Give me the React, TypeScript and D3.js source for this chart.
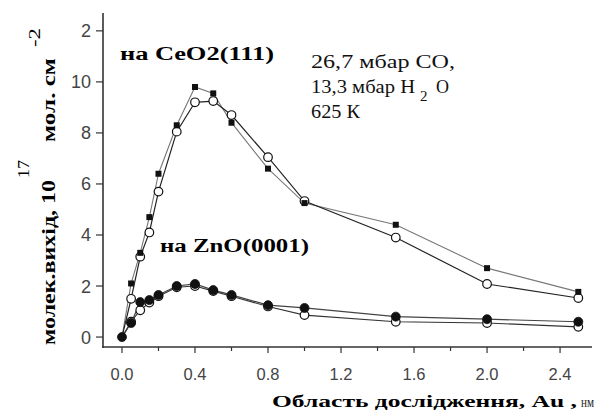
import React from "react";
import * as d3 from "d3";

const xValues = [0, 0.05, 0.1, 0.15, 0.2, 0.3, 0.4, 0.5, 0.6, 0.8, 1.0, 1.5, 2.0, 2.5];
const ceo2Filled = [0, 2.1, 3.3, 4.7, 6.4, 8.3, 9.8, 9.55, 8.4, 6.6, 5.25, 4.4, 2.7, 1.77];
const ceo2Open = [0, 1.5, 3.15, 4.1, 5.7, 8.05, 9.2, 9.25, 8.7, 7.05, 5.33, 3.9, 2.08, 1.53];
const znoFilled = [0, 0.55, 1.37, 1.45, 1.65, 2.0, 2.08, 1.84, 1.65, 1.25, 1.14, 0.8, 0.7, 0.6];
const znoOpen = [0, 0.6, 1.05, 1.35, 1.6, 1.95, 2.0, 1.8, 1.6, 1.2, 0.86, 0.6, 0.55, 0.4];

const xTicks = [0, 0.4, 0.8, 1.2, 1.6, 2.0, 2.4];
const xTickLabels = ["0.0", "0.4", "0.8", "1.2", "1.6", "2.0", "2.4"];
const xMinorTicks = [0.2, 0.6, 1.0, 1.4, 1.8, 2.2];
const yTicks = [0, 2, 4, 6, 8, 10, 12];
const yTickLabels = ["0", "2", "4", "6", "8", "10", "2"];

const W = 609;
const H = 414;

export default function App() {
  const x = d3.scaleLinear().domain([-0.104, 2.575]).range([103, 592]);
  const y = d3.scaleLinear().domain([-0.39, 12.7]).range([347, 13]);
  const line = (vals: number[]) =>
    d3.line<number>().x((_, i) => x(xValues[i])).y((v) => y(v))(vals) || "";

  const serif = "'Liberation Serif', 'DejaVu Serif', serif";
  const sans = "'Liberation Sans', Arial, sans-serif";
  const axisColor = "#333";

  return (
    <div style={{ position: "absolute", left: 0, top: 0 }}>
      <svg width={W} height={H} style={{ display: "block", background: "#fff" }}>
        {/* axes */}
        <line x1={103} x2={103} y1={13} y2={348} stroke={axisColor} strokeWidth={1.6} />
        <line x1={102} x2={592} y1={347} y2={347} stroke={axisColor} strokeWidth={1.6} />
        {yTicks.map((t, i) => (
          <g key={"y" + t}>
            <line x1={96} x2={103} y1={y(t)} y2={y(t)} stroke={axisColor} strokeWidth={1.2} />
            <text x={91} y={y(t) + 6.5} textAnchor="end" fontFamily={sans} fontSize={18} fill="#444">
              {yTickLabels[i]}
            </text>
          </g>
        ))}
        {xTicks.map((t, i) => (
          <g key={"x" + t}>
            <line x1={x(t)} x2={x(t)} y1={347} y2={353} stroke={axisColor} strokeWidth={1.2} />
            <text x={x(t)} y={380} textAnchor="middle" fontFamily={sans} fontSize={16.5} fill="#444">
              {xTickLabels[i]}
            </text>
          </g>
        ))}
        {xMinorTicks.map((t) => (
          <line key={"m" + t} x1={x(t)} x2={x(t)} y1={347} y2={351} stroke={axisColor} strokeWidth={1.2} />
        ))}

        {/* lines */}
        <path d={line(ceo2Filled)} fill="none" stroke="#777" strokeWidth={1.1} />
        <path d={line(ceo2Open)} fill="none" stroke="#222" strokeWidth={1.2} />
        <path d={line(znoFilled)} fill="none" stroke="#444" strokeWidth={1.2} />
        <path d={line(znoOpen)} fill="none" stroke="#333" strokeWidth={1.1} />

        {/* markers */}
        {znoOpen.map((v, i) =>
          i === 0 ? null : (
            <circle key={"zo" + i} cx={x(xValues[i])} cy={y(v)} r={4.3} fill="#fff" stroke="#111" strokeWidth={1.2} />
          )
        )}
        {ceo2Open.map((v, i) =>
          i === 0 ? null : (
            <circle key={"co" + i} cx={x(xValues[i])} cy={y(v)} r={4.3} fill="#fff" stroke="#111" strokeWidth={1.2} />
          )
        )}
        {znoFilled.map((v, i) => (
          <circle key={"zf" + i} cx={x(xValues[i])} cy={y(v)} r={4.5} fill="#111" stroke="#111" strokeWidth={0.8} />
        ))}
        {ceo2Filled.map((v, i) =>
          i === 0 ? null : (
            <rect key={"cf" + i} x={x(xValues[i]) - 3} y={y(v) - 3} width={6} height={6} fill="#111" />
          )
        )}

        {/* annotations */}
        <text x={120} y={60} fontFamily={serif} fontWeight="bold" fontSize={18} textLength={154} lengthAdjust="spacingAndGlyphs" fill="#000">
          на CeO2(111)
        </text>
        <text x={160} y={252} fontFamily={serif} fontWeight="bold" fontSize={18} textLength={149} lengthAdjust="spacingAndGlyphs" fill="#000">
          на ZnO(0001)
        </text>
        <text x={311} y={68} fontFamily={serif} fontSize={18} textLength={144} lengthAdjust="spacingAndGlyphs" fill="#111">
          26,7 мбар CO,
        </text>
        <text x={311} y={93} fontFamily={serif} fontSize={18} textLength={104} lengthAdjust="spacingAndGlyphs" fill="#111">
          13,3 мбар Н
        </text>
        <text x={420} y={101} fontFamily={serif} fontSize={15} fill="#111">2</text>
        <text x={436} y={93} fontFamily={serif} fontSize={18} fill="#111">О</text>
        <text x={311} y={118} fontFamily={serif} fontSize={18} textLength={49} lengthAdjust="spacingAndGlyphs" fill="#111">
          625 К
        </text>

        {/* y label */}
        <g transform="translate(55,345) rotate(-90)">
          <text x={0} y={0} fontFamily={serif} fontWeight="bold" fontSize={18} textLength={165} lengthAdjust="spacingAndGlyphs" fill="#000">
            молек.вихід, 10
          </text>
        </g>
        <g transform="translate(29,178) rotate(-90)">
          <text x={0} y={0} fontFamily={serif} fontSize={17} textLength={18} lengthAdjust="spacingAndGlyphs" fill="#000">
            17
          </text>
        </g>
        <g transform="translate(55,142) rotate(-90)">
          <text x={0} y={0} fontFamily={serif} fontWeight="bold" fontSize={18} textLength={84} lengthAdjust="spacingAndGlyphs" fill="#000">
            мол. см
          </text>
        </g>
        <g transform="translate(40,47) rotate(-90)">
          <text x={0} y={0} fontFamily={serif} fontSize={17} textLength={19} lengthAdjust="spacingAndGlyphs" fill="#000">
            -2
          </text>
        </g>

        {/* x label */}
        <text x={272} y={407} fontFamily={serif} fontWeight="bold" fontSize={17} textLength={305} lengthAdjust="spacingAndGlyphs" fill="#000">
          Область дослідження, Au ,
        </text>
        <text x={581} y={407} fontFamily={serif} fontSize={14} textLength={13} lengthAdjust="spacingAndGlyphs" fill="#222">
          нм
        </text>
      </svg>
    </div>
  );
}
